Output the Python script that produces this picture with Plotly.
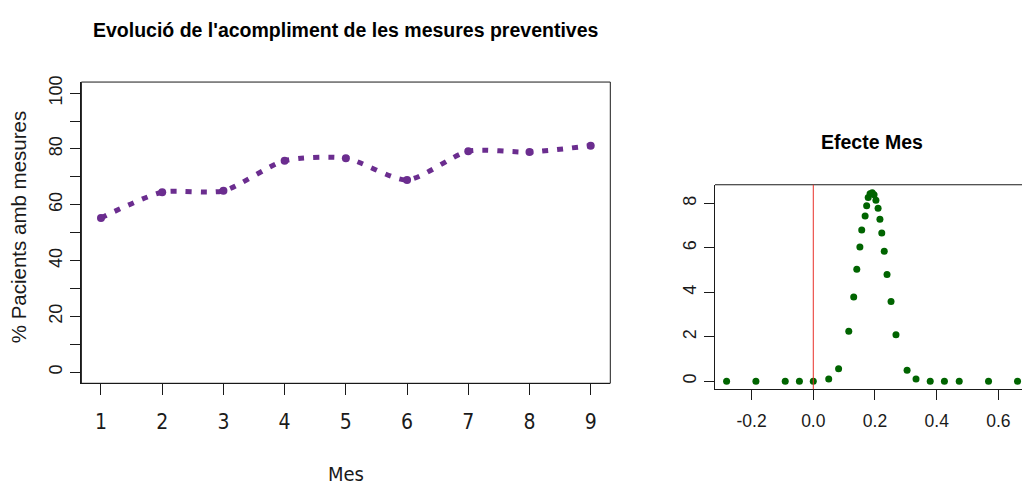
import plotly.graph_objects as go

# Evolució mensual del % de pacients amb mesures preventives
mes = [1, 2, 3, 4, 5, 6, 7, 8, 9]
pct_mesures = [55.3, 64.5, 65.0, 75.8, 76.7, 68.9, 79.2, 78.9, 81.2]
mes_labels = ["1", "2", "3", "4", "5", "6", "7", "8", "9"]
pct_ticks = [0, 10, 20, 30, 40, 50, 60, 70, 80, 90, 100]
pct_labels = ["0", "", "20", "", "40", "", "60", "", "80", "", "100"]

# Densitat de l'efecte del mes
efecte_x = [-0.281, -0.186, -0.091, -0.045, 0.000, 0.050, 0.082, 0.115, 0.131,
            0.141, 0.151, 0.157, 0.168, 0.173, 0.178, 0.184, 0.191, 0.197,
            0.203, 0.210, 0.216, 0.222, 0.230, 0.239, 0.252, 0.268, 0.304,
            0.333, 0.379, 0.425, 0.473, 0.568, 0.662]
efecte_dens = [0, 0, 0, 0, 0, 0.10, 0.56, 2.25, 3.79,
               5.04, 6.04, 6.81, 7.44, 7.90, 8.27, 8.44, 8.49, 8.40,
               8.15, 7.79, 7.29, 6.67, 5.85, 4.81, 3.59, 2.10, 0.50,
               0.10, 0, 0, 0, 0, 0]
efecte_x_ticks = [-0.2, 0.0, 0.2, 0.4, 0.6]
efecte_x_labels = ["-0.2", "0.0", "0.2", "0.4", "0.6"]
efecte_y_ticks = [0, 2, 4, 6, 8]
efecte_y_labels = ["0", "2", "4", "6", "8"]
referencia = 0.0

W, H = 1022, 486
NARROW = "DejaVu Sans Condensed, Liberation Sans Narrow, sans-serif"
SANS = "Liberation Sans, Arial, sans-serif"
INK = "#1a1a1a"


def fx(p):
    return p / W


def fy(p):
    return 1 - p / H


fig = go.Figure()

fig.add_trace(go.Scatter(
    x=mes, y=pct_mesures, mode="lines+markers",
    line=dict(color="#6b2d8f", width=5, dash="6px,9px", shape="spline", smoothing=0.7),
    marker=dict(color="#6b2d8f", size=8),
    xaxis="x", yaxis="y", showlegend=False,
))

fig.add_trace(go.Scatter(
    x=efecte_x, y=efecte_dens, mode="markers",
    marker=dict(color="#006400", size=7),
    xaxis="x2", yaxis="y2", showlegend=False,
))

axis_common = dict(
    showgrid=False, zeroline=False, showline=True, linecolor=INK, linewidth=1,
    ticks="outside", tickcolor=INK, tickwidth=1, mirror=False,
)

fig.update_layout(
    width=W, height=486,
    margin=dict(l=0, r=0, t=0, b=0),
    paper_bgcolor="white", plot_bgcolor="white",
    xaxis=dict(
        domain=[fx(81.4), fx(610.3)], range=[0.68, 9.32],
        tickvals=mes, ticktext=mes_labels, ticklen=11,
        tickfont=dict(family=NARROW, size=21, color=INK), ticklabelstandoff=9,
        anchor="y", **axis_common,
    ),
    yaxis=dict(
        domain=[fy(382), fy(77)], range=[-4, 104],
        tickvals=pct_ticks, ticktext=pct_labels, ticklen=10,
        tickangle=-90, tickfont=dict(family=SANS, size=18, color=INK),
        ticklabelstandoff=1, anchor="x", **axis_common,
    ),
    xaxis2=dict(
        domain=[fx(715), 1.0], range=[-0.3186, 0.6765],
        tickvals=efecte_x_ticks, ticktext=efecte_x_labels, ticklen=10,
        tickfont=dict(family=SANS, size=17.5, color=INK), ticklabelstandoff=6,
        anchor="y2", **axis_common,
    ),
    yaxis2=dict(
        domain=[fy(388), fy(181)], range=[-0.356, 8.844],
        tickvals=efecte_y_ticks, ticktext=efecte_y_labels, ticklen=10,
        tickangle=-90, tickfont=dict(family=SANS, size=18, color=INK),
        ticklabelstandoff=1, anchor="x2", **axis_common,
    ),
    shapes=[
        # caixa del gràfic d'evolució
        dict(type="rect", xref="x domain", yref="y domain", x0=0, x1=1, y0=0, y1=1,
             line=dict(color=INK, width=1), fillcolor="rgba(0,0,0,0)", layer="above"),
        # vora superior del gràfic de l'efecte
        dict(type="line", xref="x2 domain", yref="y2 domain", x0=0, x1=1, y0=1, y1=1,
             line=dict(color=INK, width=1)),
        # línia de referència a zero
        dict(type="line", xref="x2", yref="y2 domain",
             x0=referencia, x1=referencia, y0=0, y1=1,
             line=dict(color="#e8302a", width=1)),
    ],
    annotations=[
        dict(text="<b>Evolució de l'acompliment de les mesures preventives</b>",
             x=fx(345.5), y=fy(24), xref="paper", yref="paper",
             xanchor="center", yanchor="middle", showarrow=False,
             font=dict(family=SANS, size=19.5, color="black")),
        dict(text="<b>Efecte Mes</b>",
             x=fx(871.7), y=fy(137.5), xref="paper", yref="paper",
             xanchor="center", yanchor="middle", showarrow=False,
             font=dict(family=SANS, size=19.5, color="black")),
        dict(text="Mes", x=fx(346), y=0, xref="paper", yref="paper",
             xanchor="center", yanchor="bottom", showarrow=False, yshift=-2,
             font=dict(family=NARROW, size=20, color=INK)),
        dict(text="% Pacients amb mesures", x=fx(18), y=fy(224),
             xref="paper", yref="paper", textangle=-90,
             xanchor="center", yanchor="middle", showarrow=False,
             font=dict(family=SANS, size=20.5, color=INK)),
    ],
)

fig.write_html("out.html")
